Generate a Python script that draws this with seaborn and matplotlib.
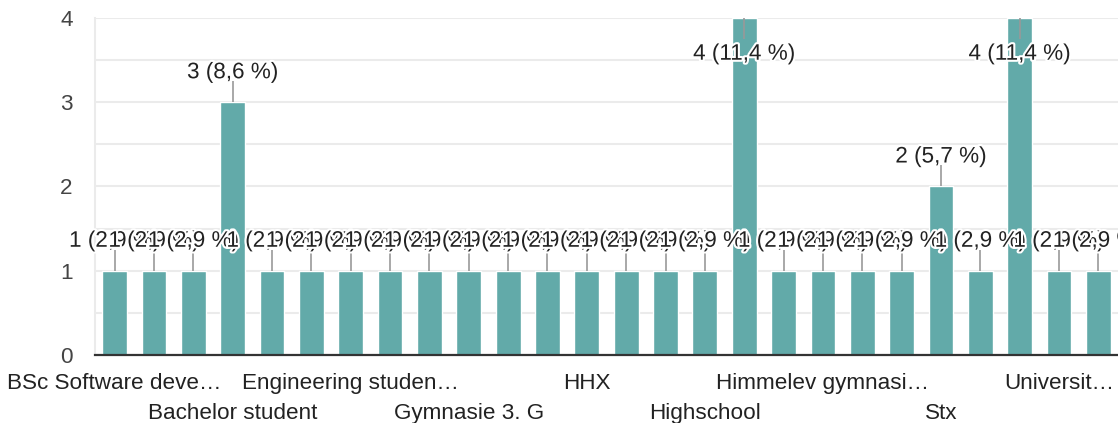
import matplotlib
matplotlib.use("Agg")
import matplotlib.pyplot as plt
import matplotlib.patheffects as pe
from matplotlib.ticker import MultipleLocator
import seaborn as sns

# Responses per category
categories = [
    "BSc Software development", "Bachelor", "Bachelor in IT", "Bachelor student",
    "Datamatiker", "Designer", "Engineering student", "Gymnasiast",
    "Gymnasie 2. G", "Gymnasie 3. G", "Gymnasieelev", "HF",
    "HHX", "HTX", "High school", "Highschool",
    "Highschool student", "Himmelev Gymnasium", "Himmelev gymnasium", "Roskilde Gymnasium",
    "STX", "Stx", "Student", "Studerende",
    "Universitet", "University student",
]
values = [1, 1, 1, 3, 1, 1, 1, 1, 1, 1, 1, 1, 1, 1, 1, 1, 4, 1, 1, 1, 1, 2, 1, 4, 1, 1]

# Every third category gets a visible (truncated) label, alternating rows
tick_step = 3
tick_labels = [
    "BSc Software deve…", "Bachelor student", "Engineering studen…",
    "Gymnasie 3. G", "HHX", "Highschool", "Himmelev gymnasi…", "Stx", "Universit…",
]

bar_color = "#62aaa9"
text_color = "#222222"
grid_color = "#ebebeb"
font_size = 16.2

sns.set_style("white")
plt.rcParams["font.family"] = ["Liberation Sans", "DejaVu Sans"]

fig = plt.figure(figsize=(11.18, 4.23), dpi=100)
ax = fig.add_axes([95 / 1118, 1 - 355 / 423, 1 - 95 / 1118, (355 - 18) / 423])

sns.barplot(x=categories, y=values, color=bar_color, saturation=1,
            width=0.63, ax=ax, zorder=2)

ax.set_xlim(-0.5, len(categories) - 0.5)
ax.set_ylim(0, 4)
ax.yaxis.set_major_locator(MultipleLocator(1))
ax.yaxis.set_minor_locator(MultipleLocator(0.5))
ax.grid(axis="y", which="both", color=grid_color, lw=1.5, zorder=0)
ax.set_axisbelow(True)

for side in ("top", "right"):
    ax.spines[side].set_visible(False)
ax.spines["left"].set_color(grid_color)
ax.spines["left"].set_linewidth(1.5)
ax.spines["bottom"].set_color("#333333")
ax.spines["bottom"].set_linewidth(1.6)
ax.spines["bottom"].set_zorder(3)

ax.set_xlabel("")
ax.set_ylabel("")
ax.tick_params(axis="y", which="both", length=0, pad=16, labelsize=font_size, labelcolor="#444444")
ax.tick_params(axis="x", length=0, labelsize=font_size, labelcolor=text_color)

tick_pos = list(range(0, len(categories), tick_step))
ax.set_xticks(tick_pos)
ax.set_xticklabels(tick_labels)
for k, tick in enumerate(ax.xaxis.get_major_ticks()):
    tick.set_pad(13 if k % 2 == 0 else 34.3)

# Value annotations with leader stems
total = sum(values)
ymax = ax.get_ylim()[1]
stem_len = 0.25
for i, v in enumerate(values):
    pct = f"{v / total * 100:.1f}".replace(".", ",")
    label = f"{v} ({pct} %)"
    if v + 0.5 > ymax:
        y_stem, y_text = v - stem_len, v - 0.43
    else:
        y_stem, y_text = v + stem_len, v + 0.35
    ax.plot([i, i], [v, y_stem], color="#999999", lw=1.2, zorder=3, solid_capstyle="butt")
    ax.text(i, y_text, label, ha="center", va="center", fontsize=font_size,
            color=text_color, zorder=4, clip_on=False,
            path_effects=[pe.withStroke(linewidth=3, foreground="white")])

fig.savefig("out.png", dpi=100)
